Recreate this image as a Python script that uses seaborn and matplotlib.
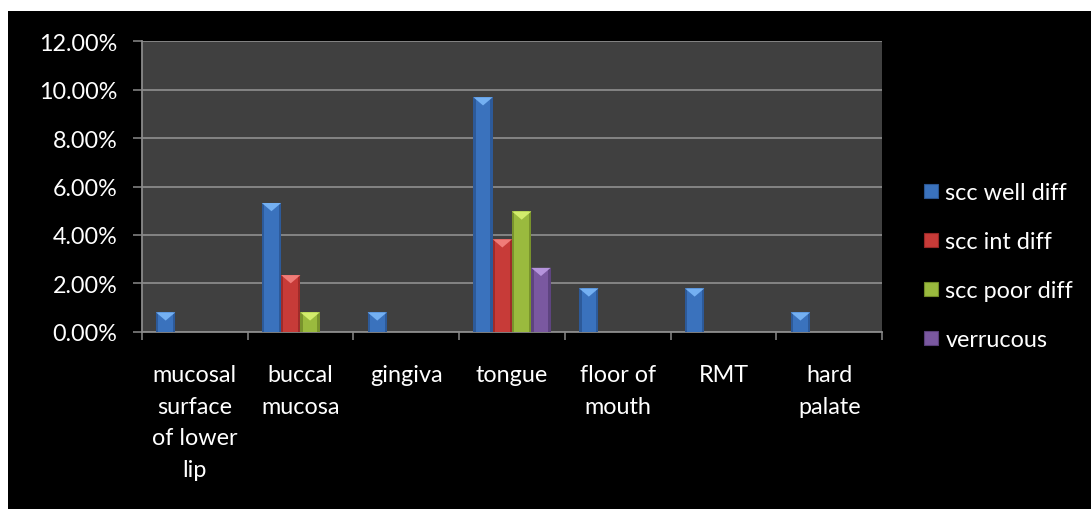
import numpy as np
import pandas as pd
import seaborn as sns
import matplotlib.pyplot as plt
from matplotlib.patches import Polygon, Rectangle, Patch
from matplotlib.ticker import PercentFormatter, FixedLocator

# data (fractions)
sites = ["mucosal\nsurface\nof lower\nlip", "buccal\nmucosa", "gingiva", "tongue",
         "floor of\nmouth", "RMT", "hard\npalate"]
types = ["scc well diff", "scc int diff", "scc poor diff", "verrucous"]
well_diff = [0.0080, 0.0532, 0.0080, 0.0969, 0.0179, 0.0179, 0.0080]
int_diff = [0.0, 0.0234, 0.0, 0.0382, 0.0, 0.0, 0.0]
poor_diff = [0.0, 0.0080, 0.0, 0.0497, 0.0, 0.0, 0.0]
verrucous = [0.0, 0.0, 0.0, 0.0264, 0.0, 0.0, 0.0]

colors = ["#3a72bd", "#c73b38", "#9aba3e", "#7a58a0"]
light = ["#74b0f2", "#f07c78", "#d2ec6c", "#b594dc"]
dark = ["#2a5590", "#962826", "#718a28", "#583f78"]

df = pd.DataFrame({
    "site": sites * 4,
    "type": np.repeat(types, len(sites)),
    "value": well_diff + int_diff + poor_diff + verrucous,
})

sns.set_style("dark")
plt.rcParams["font.family"] = ["Lato", "DejaVu Sans"]
fs = 16.8

fig = plt.figure(figsize=(10.91, 5.10), dpi=100, facecolor="white")
fig.patches.append(Rectangle((8 / 1091, 0), 1, (510 - 12) / 510, transform=fig.transFigure,
                             facecolor="black", edgecolor="none", zorder=-10))
ax = fig.add_axes([0.1299, 0.3476, 0.8087 - 0.1299, 0.917 - 0.3476])
ax.set_facecolor("#404040")

sns.barplot(data=df, x="site", y="value", hue="type", order=sites, hue_order=types,
            palette=colors, saturation=1, width=0.73, gap=0, linewidth=0,
            legend=False, ax=ax, zorder=3)

ax.set_ylim(0, 0.12)
ax.set_xlim(-0.5, len(sites) - 0.5)
ax.yaxis.set_major_locator(FixedLocator(np.arange(0, 0.121, 0.02)))
ax.yaxis.set_major_formatter(PercentFormatter(1, decimals=2))
ax.grid(axis="y", color="#8a8a8a", linewidth=1.3, zorder=1)
ax.grid(axis="x", visible=False)
ax.set_axisbelow(True)

# bevel look on every bar
d = 0.0034
for k, cont in enumerate(ax.containers):
    for bar in cont:
        h = bar.get_height()
        if h <= 0:
            continue
        x0, w = bar.get_x(), bar.get_width()
        ax.add_patch(Rectangle((x0, 0), w * 0.12, h, facecolor=dark[k], edgecolor="none",
                               alpha=0.8, zorder=4))
        ax.add_patch(Rectangle((x0 + w * 0.88, 0), w * 0.12, h, facecolor=dark[k],
                               edgecolor="none", alpha=0.8, zorder=4))
        ax.add_patch(Polygon([(x0, h), (x0 + w, h), (x0 + w / 2, h - d)],
                             facecolor=light[k], edgecolor="none", zorder=5))

for s in ["top", "right"]:
    ax.spines[s].set_visible(False)
for s in ["left", "bottom"]:
    ax.spines[s].set_visible(True)
    ax.spines[s].set_color("#8a8a8a")
    ax.spines[s].set_linewidth(1.3)

ax.set_xlabel("")
ax.set_ylabel("")
ax.tick_params(axis="y", colors="#8a8a8a", length=6.5, width=1.1, pad=11, labelsize=fs,
               labelcolor="white", left=True)
ax.set_xticks(range(len(sites)))
ax.set_xticklabels(sites, linespacing=1.64)
ax.tick_params(axis="x", which="major", length=0, pad=23, labelsize=fs, labelcolor="white")
ax.set_xticks(np.arange(-0.5, len(sites)), minor=True)
ax.tick_params(axis="x", which="minor", length=6, width=1.1, colors="#8a8a8a", bottom=True)
for lab in ax.get_xticklabels():
    lab.set_verticalalignment("top")

handles = [Patch(facecolor=c, edgecolor=dk, linewidth=0.8) for c, dk in zip(colors, dark)]
leg = fig.legend(handles, types, loc="center left", bbox_to_anchor=(0.828, 0.476),
                 frameon=False, fontsize=fs, handlelength=0.6, handleheight=0.6,
                 handletextpad=0.3, labelspacing=1.2, labelcolor="white")

fig.savefig("out.png", dpi=100, facecolor=fig.get_facecolor())
